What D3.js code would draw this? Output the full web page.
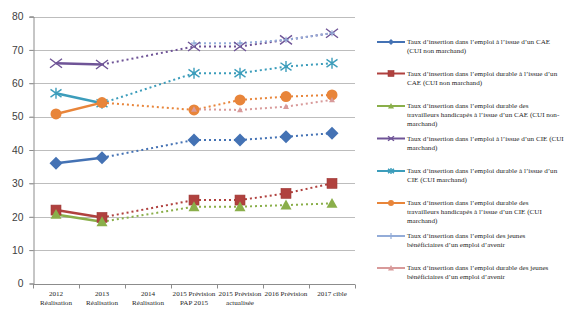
<!DOCTYPE html>
<html>
<head>
<meta charset="utf-8">
<script src="https://cdn.jsdelivr.net/npm/d3@7"></script>
<style>
  body { margin: 0; background: #fff; }
  svg { display: block; }
</style>
</head>
<body>
<div id="chart"></div>
<script>
/* Categories (x axis, two lines each) */
const categories = ["2012 Réalisation", "2013 Réalisation", "2014 Réalisation",
  "2015 Prévision PAP 2015", "2015 Prévision actualisée", "2016 Prévision", "2017 cible"];
const categoryLines = [
  ["2012", "Réalisation"], ["2013", "Réalisation"], ["2014", "Réalisation"],
  ["2015 Prévision", "PAP 2015"], ["2015 Prévision", "actualisée"],
  ["2016 Prévision"], ["2017 cible"]
];
/* index of the last realised year: segments after it are dotted */
const lastRealised = 1;

/* Series values (null = no value) */
const caeEmploi        = [36, 37.7, null, 43, 43, 44, 45];
const caeDurable       = [22, 19.8, null, 25, 25, 27, 30];
const caeHandicapes    = [20.7, 18.5, null, 23, 23, 23.5, 24];
const cieEmploi        = [66, 65.6, null, 71, 71, 73, 75];
const cieDurable       = [57, 54, null, 63, 63, 65, 66];
const cieHandicapes    = [50.8, 54.2, null, 52, 55, 56, 56.5];
const jeunesEmploi     = [null, null, null, 72, 72, 73, 75];
const jeunesDurable    = [null, null, null, 52.2, 52, 53, 55];

const yTicks = [0, 10, 20, 30, 40, 50, 60, 70, 80];

const seriesNames = [
  ["Taux d’insertion dans l’emploi à l’issue d’un CAE", "(CUI non marchand)"],
  ["Taux d’insertion dans l’emploi durable à l’issue d’un", "CAE (CUI non marchand)"],
  ["Taux d’insertion dans l’emploi durable des", "travailleurs handicapés à l’issue d’un CAE (CUI non-", "marchand)"],
  ["Taux d’insertion dans l’emploi à l’issue d’un CIE (CUI", "marchand)"],
  ["Taux d’insertion dans l’emploi durable à l’issue d’un", "CIE (CUI marchand)"],
  ["Taux d’insertion dans l’emploi durable des", "travailleurs handicapés à l’issue d’un CIE (CUI", "marchand)"],
  ["Taux d’insertion dans l’emploi des jeunes", "bénéficiaires d’un emploi d’avenir"],
  ["Taux d’insertion dans l’emploi durable des jeunes", "bénéficiaires d’un emploi d’avenir"]
];

const series = [
  { values: caeEmploi,     color: "#4472B4", marker: "diamond",  size: 13 },
  { values: caeDurable,    color: "#B0413E", marker: "square",   size: 10 },
  { values: caeHandicapes, color: "#8AAF4A", marker: "triangle", size: 11 },
  { values: cieEmploi,     color: "#6F5497", marker: "x",        size: 12 },
  { values: cieDurable,    color: "#3C9DBB", marker: "star",     size: 11 },
  { values: cieHandicapes, color: "#E8853A", marker: "circle",   size: 11 },
  { values: jeunesEmploi,  color: "#93ACD8", marker: "plus",     size: 6 },
  { values: jeunesDurable, color: "#D89A9A", marker: "triangle", size: 6 }
];

const W = 578, H = 327;
const plot = { left: 33, right: 355, top: 16.5, bottom: 283.5 };

const svg = d3.select("#chart").append("svg")
  .attr("width", W).attr("height", H);

/* scales */
const x = d3.scaleBand().domain(categories).range([plot.left, plot.right]).padding(0);
const y = d3.scaleLinear().domain([0, 80]).range([plot.bottom, plot.top]);
const cx = function(i){ return x(categories[i]) + x.bandwidth() / 2; };

/* gridlines */
svg.append("g")
  .selectAll("line")
  .data(yTicks.filter(function(t){ return t > 0; }))
  .enter().append("line")
  .attr("x1", plot.left - 4).attr("x2", plot.right)
  .attr("y1", function(t){ return Math.round(y(t)) + 0.5; })
  .attr("y2", function(t){ return Math.round(y(t)) + 0.5; })
  .style("stroke", "#bdbdbd").style("stroke-width", 1);

/* y axis */
const yAxis = svg.append("g")
  .attr("transform", "translate(" + (plot.left + 0.5) + ",0)")
  .call(d3.axisLeft(y).tickValues(yTicks).tickSize(4).tickPadding(6));
yAxis.select(".domain").style("stroke", "#8c8c8c");
yAxis.selectAll(".tick line").style("stroke", "#8c8c8c");
yAxis.selectAll(".tick text")
  .style("font-family", "'Liberation Sans', Arial, sans-serif")
  .style("font-size", "10.3px")
  .style("fill", "#404040");

/* x axis */
const xAxis = svg.append("g")
  .attr("transform", "translate(0," + (Math.round(plot.bottom) + 0.5) + ")");
xAxis.append("line")
  .attr("x1", plot.left).attr("x2", plot.right)
  .style("stroke", "#8c8c8c");
xAxis.selectAll(".xtick")
  .data(d3.range(categories.length + 1))
  .enter().append("line")
  .attr("class", "xtick")
  .attr("x1", function(i){ return Math.round(plot.left + i * x.bandwidth()) + 0.5; })
  .attr("x2", function(i){ return Math.round(plot.left + i * x.bandwidth()) + 0.5; })
  .attr("y1", 0).attr("y2", 4)
  .style("stroke", "#8c8c8c");
xAxis.selectAll(".xlabel")
  .data(categoryLines)
  .enter().append("text")
  .attr("class", "xlabel")
  .attr("text-anchor", "middle")
  .style("font-family", "'Liberation Serif', 'Times New Roman', serif")
  .style("font-size", "7.1px")
  .style("fill", "#262626")
  .each(function(lines, i){
    d3.select(this).selectAll("tspan")
      .data(lines)
      .enter().append("tspan")
      .attr("x", cx(i))
      .attr("y", function(l, k){ return 11.5 + k * 9; })
      .text(function(l){ return l; });
  });

/* marker drawing */
function drawMarker(g, type, size, color){
  const s = size / 2;
  if (type === "diamond") {
    g.append("path").attr("d", "M0," + (-s) + "L" + s + ",0L0," + s + "L" + (-s) + ",0Z")
      .style("fill", color);
  } else if (type === "square") {
    g.append("rect").attr("x", -s).attr("y", -s).attr("width", size).attr("height", size)
      .style("fill", color).style("stroke", d3.color(color).darker(0.3)).style("stroke-width", 0.6);
  } else if (type === "triangle") {
    g.append("path").attr("d", "M0," + (-s) + "L" + s + "," + (s * 0.8) + "L" + (-s) + "," + (s * 0.8) + "Z")
      .style("fill", color);
  } else if (type === "circle") {
    g.append("circle").attr("r", s).style("fill", color);
  } else if (type === "x") {
    g.append("path").attr("d", "M" + (-s) + "," + (-s * 0.75) + "L" + s + "," + (s * 0.75) +
        "M" + (-s) + "," + (s * 0.75) + "L" + s + "," + (-s * 0.75))
      .style("stroke", color).style("stroke-width", 1.4).style("fill", "none");
  } else if (type === "star") {
    g.append("path").attr("d", "M" + (-s) + "," + (-s * 0.7) + "L" + s + "," + (s * 0.7) +
        "M" + (-s) + "," + (s * 0.7) + "L" + s + "," + (-s * 0.7) +
        "M0," + (-s) + "L0," + s)
      .style("stroke", color).style("stroke-width", 1.4).style("fill", "none");
  } else if (type === "plus") {
    g.append("path").attr("d", "M" + (-s) + ",0L" + s + ",0M0," + (-s) + "L0," + s)
      .style("stroke", color).style("stroke-width", 1.2).style("fill", "none");
  }
}

/* lines */
const seriesG = svg.append("g");
series.forEach(function(sr){
  const pts = [];
  sr.values.forEach(function(v, i){ if (v !== null) pts.push({ i: i, v: v }); });
  const segs = d3.pairs(pts);
  seriesG.selectAll(null)
    .data(segs)
    .enter().append("line")
    .attr("x1", function(p){ return cx(p[0].i); })
    .attr("y1", function(p){ return y(p[0].v); })
    .attr("x2", function(p){ return cx(p[1].i); })
    .attr("y2", function(p){ return y(p[1].v); })
    .style("stroke", sr.color)
    .style("stroke-width", function(p){ return p[1].i <= lastRealised ? 2.5 : 2; })
    .style("stroke-dasharray", function(p){ return p[1].i <= lastRealised ? null : "2,3"; });
});

/* markers */
series.forEach(function(sr){
  sr.values.forEach(function(v, i){
    if (v === null) return;
    const g = seriesG.append("g").attr("transform", "translate(" + cx(i) + "," + y(v) + ")");
    drawMarker(g, sr.marker, sr.size, sr.color);
  });
});

/* legend */
const legendY = [42, 73.5, 106, 138.5, 171, 203, 236, 268];
const legend = svg.append("g");
series.forEach(function(sr, k){
  const g = legend.append("g").attr("transform", "translate(0," + legendY[k] + ")");
  g.append("line").attr("x1", 377).attr("x2", 405).attr("y1", 0).attr("y2", 0)
    .style("stroke", sr.color).style("stroke-width", 2);
  const mg = g.append("g").attr("transform", "translate(391,0)");
  drawMarker(mg, sr.marker, Math.min(sr.size, 6), sr.color);
  g.append("text")
    .style("font-family", "'Liberation Serif', 'Times New Roman', serif")
    .style("font-size", "7.1px")
    .style("fill", "#262626")
    .selectAll("tspan")
    .data(seriesNames[k])
    .enter().append("tspan")
    .attr("x", 407)
    .attr("y", function(l, j){ return 2.4 + j * 8.6; })
    .text(function(l){ return l; });
});
</script>
</body>
</html>
